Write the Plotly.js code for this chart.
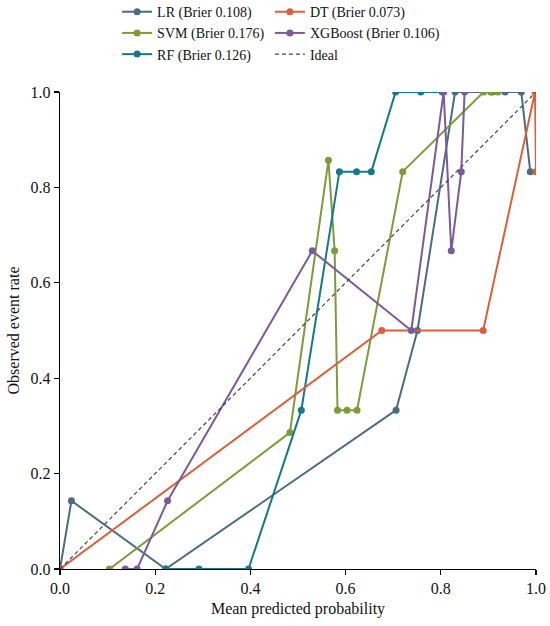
<!DOCTYPE html>
<html>
<head>
<meta charset="utf-8">
<script src="https://cdn.plot.ly/plotly-3.0.1.min.js"></script>
<style>html,body{margin:0;padding:0;background:#fff;}#chart{width:550px;height:626px;}</style>
</head>
<body>
<div id="chart"></div>
<script>
// Calibration data
const lrX  = [0.0, 0.024, 0.222, 0.706, 0.751, 0.830, 0.908, 0.935, 0.969, 0.988];
const lrY  = [0.0, 0.143, 0.0, 0.333, 0.5, 1.0, 1.0, 1.0, 1.0, 0.833];
const svmX = [0.104, 0.483, 0.564, 0.577, 0.583, 0.603, 0.624, 0.720, 0.890, 0.905, 0.920];
const svmY = [0.0, 0.286, 0.857, 0.667, 0.333, 0.333, 0.333, 0.833, 1.0, 1.0, 1.0];
const rfX  = [0.222, 0.292, 0.396, 0.507, 0.587, 0.623, 0.654, 0.705, 0.758, 0.803];
const rfY  = [0.0, 0.0, 0.0, 0.333, 0.833, 0.833, 0.833, 1.0, 1.0, 1.0];
const dtX  = [0.0, 0.676, 0.889, 0.998, 1.0];
const dtY  = [0.0, 0.5, 0.5, 1.0, 0.833];
const xgbX = [0.137, 0.162, 0.226, 0.530, 0.738, 0.806, 0.822, 0.843, 0.850];
const xgbY = [0.0, 0.0, 0.143, 0.667, 0.5, 1.0, 0.667, 0.833, 1.0];
const idealX = [0, 1];
const idealY = [0, 1];
const names = ["LR (Brier 0.108)", "SVM (Brier 0.176)", "RF (Brier 0.126)",
               "DT (Brier 0.073)", "XGBoost (Brier 0.106)", "Ideal"];
const colors = ["#4b6b80", "#7e9a3b", "#16798a", "#d9603b", "#7b5a9a", "#444444"];
const tickVals = [0, 0.2, 0.4, 0.6, 0.8, 1.0];
const tickText = ["0.0", "0.2", "0.4", "0.6", "0.8", "1.0"];

function series(x, y, i, leg) {
  return {x: x, y: y, name: names[i], type: "scatter", mode: "lines+markers",
          line: {color: colors[i], width: 2}, marker: {color: colors[i], size: 7},
          legend: leg};
}
const traces = [
  series(lrX, lrY, 0, "legend"),
  series(svmX, svmY, 1, "legend"),
  series(rfX, rfY, 2, "legend"),
  series(dtX, dtY, 3, "legend2"),
  series(xgbX, xgbY, 4, "legend2"),
  {x: idealX, y: idealY, name: names[5], type: "scatter", mode: "lines",
   line: {color: colors[5], width: 1.2, dash: "4px,3px"}, legend: "legend2"}
];
const FAM = "'Liberation Serif', 'Times New Roman', serif";
const font = {family: FAM, size: 16, color: "#111"};
const legFont = {family: FAM, size: 14, color: "#111"};
const axisCommon = {
  range: [0, 1], tickvals: tickVals, ticktext: tickText, showgrid: false, zeroline: false,
  showline: true, linecolor: "#000", linewidth: 1.2, ticks: "outside", ticklen: 5,
  tickwidth: 1.2, tickcolor: "#000", tickfont: font, fixedrange: true
};
const layout = {
  width: 550, height: 626,
  margin: {l: 59.5, r: 13.5, t: 92, b: 57, autoexpand: false},
  paper_bgcolor: "#fff", plot_bgcolor: "#fff",
  font: font,
  showlegend: true,
  xaxis: Object.assign({}, axisCommon, {title: {text: "Mean predicted probability", font: font, standoff: 6}}),
  yaxis: Object.assign({}, axisCommon, {title: {text: "Observed event rate", font: font, standoff: 7}}),
  legend: {x: 0.120, y: 1.201, xanchor: "left", yanchor: "top", font: legFont,
           bgcolor: "rgba(0,0,0,0)", tracegroupgap: 0},
  legend2: {x: 0.441, y: 1.201, xanchor: "left", yanchor: "top", font: legFont,
           bgcolor: "rgba(0,0,0,0)", tracegroupgap: 0}
};
Plotly.newPlot("chart", traces, layout, {displayModeBar: false, staticPlot: true});
</script>
</body>
</html>
